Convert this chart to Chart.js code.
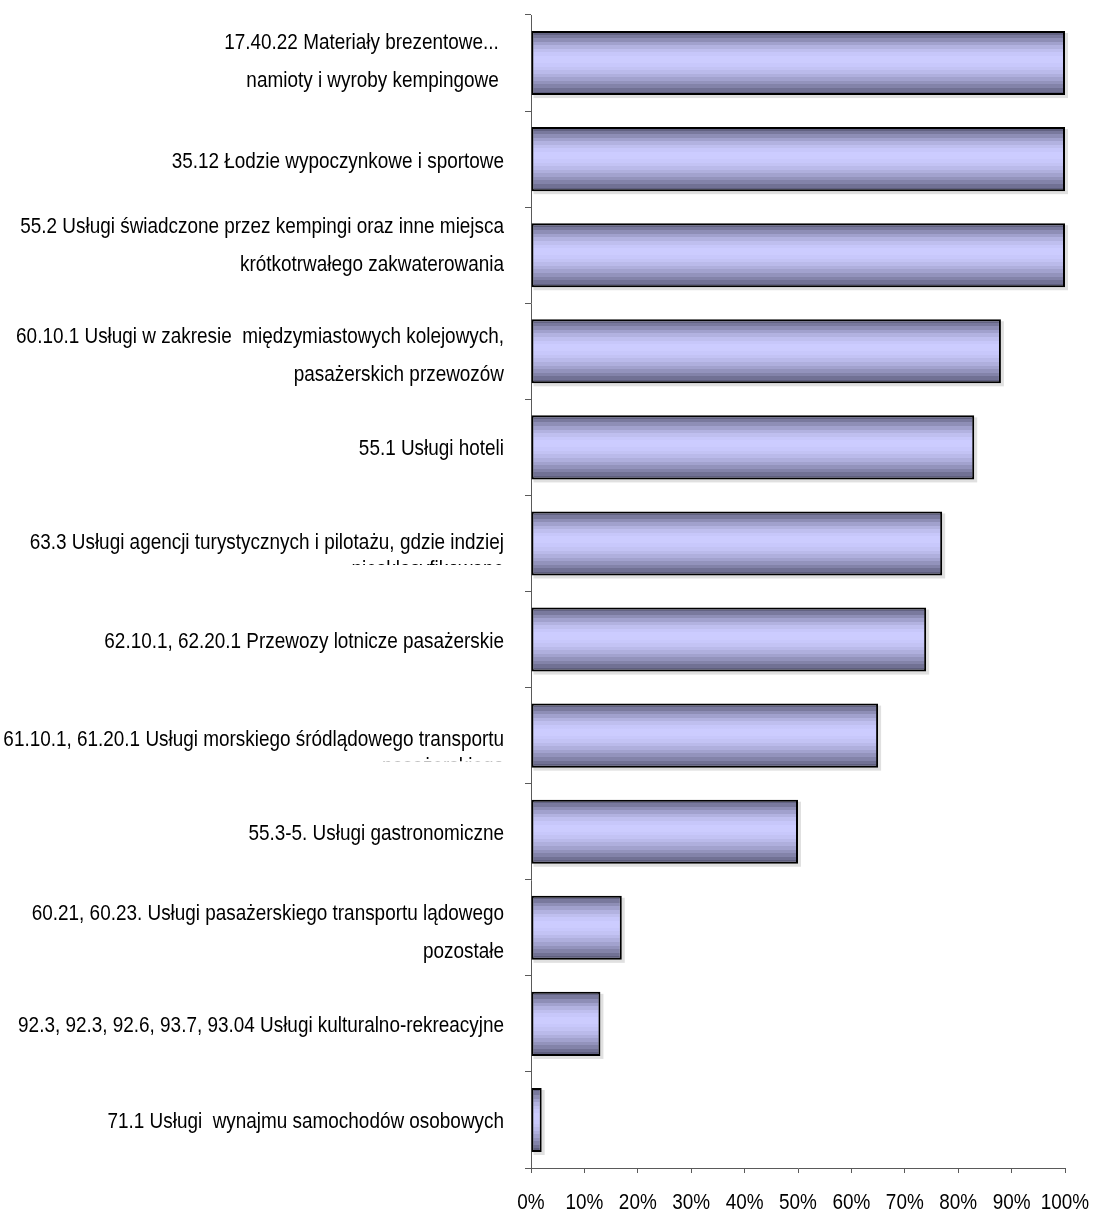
<!DOCTYPE html>
<html>
<head>
<meta charset="utf-8">
<script src="https://cdn.jsdelivr.net/npm/chart.js@4/dist/chart.umd.min.js"></script>
<style>
  html, body { margin: 0; padding: 0; background: #ffffff; }
  #wrap { width: 1095px; height: 1211px; position: relative; }
</style>
</head>
<body>
<div id="wrap"><canvas id="c" width="1095" height="1211"></canvas></div>
<script>
// ---- data ----
const categories = [
  ["17.40.22 Materiały brezentowe... ", "namioty i wyroby kempingowe "],
  ["35.12 Łodzie wypoczynkowe i sportowe"],
  ["55.2 Usługi świadczone przez kempingi oraz inne miejsca", "krótkotrwałego zakwaterowania"],
  ["60.10.1 Usługi w zakresie  międzymiastowych kolejowych,", "pasażerskich przewozów"],
  ["55.1 Usługi hoteli"],
  ["63.3 Usługi agencji turystycznych i pilotażu, gdzie indziej"],
  ["62.10.1, 62.20.1 Przewozy lotnicze pasażerskie"],
  ["61.10.1, 61.20.1 Usługi morskiego śródlądowego transportu"],
  ["55.3-5. Usługi gastronomiczne"],
  ["60.21, 60.23. Usługi pasażerskiego transportu lądowego", "pozostałe"],
  ["92.3, 92.3, 92.6, 93.7, 93.04 Usługi kulturalno-rekreacyjne"],
  ["71.1 Usługi  wynajmu samochodów osobowych"]
];
// second lines that overflow the label cell and are cut off
const overflowLines = [null, null, null, null, null, "niesklasyfikowane", null, "pasażerskiego", null, null, null, null];
const values = [100, 100, 100, 88, 83, 77, 74, 65, 50, 17, 13, 2];
const xTicks = [0, 10, 20, 30, 40, 50, 60, 70, 80, 90, 100];
const xTickLabels = ["0%", "10%", "20%", "30%", "40%", "50%", "60%", "70%", "80%", "90%", "100%"];

// ---- styling ----
const FONT = "'Liberation Sans', Arial, sans-serif";
const FONT_PX = 22;
const NARROW = 0.86;          // emulate Arial Narrow
const LINE_GAP = 38;
// baseline of first label line relative to category centre (style only)
const firstBaseline = [-14, 9, -22, -8, 8, 6, 8, 10, 8, -8, 8, 8];
const AXIS = '#5a5a5a';
const DARK = [86, 86, 116];
const LIGHT = [204, 204, 255];
const BAR_PCT = 0.667;

function bandColor(t) {
  let b = t < 0.44 ? t / 0.44 : (1 - t) / 0.56;
  b = Math.sin(b * Math.PI / 2);
  const c = DARK.map((d, i) => Math.round(d + (LIGHT[i] - d) * b));
  return 'rgb(' + c.join(',') + ')';
}

function barFill(ctx) {
  const chart = ctx.chart;
  const ys = chart.scales.y;
  if (!chart.chartArea || !ys || ctx.dataIndex === undefined) return 'rgb(170,170,220)';
  const center = ys.getPixelForValue(ctx.dataIndex);
  const half = (ys.height / categories.length) * BAR_PCT / 2;
  const top = center - half, bottom = center + half;
  if (!isFinite(top) || bottom <= top) return 'rgb(170,170,220)';
  const g = chart.ctx.createLinearGradient(0, top, 0, bottom);
  const bands = 18;
  for (let i = 0; i < bands; i++) {
    const col = bandColor((i + 0.5) / bands);
    g.addColorStop(i / bands, col);
    g.addColorStop((i + 1) / bands - 0.0001, col);
  }
  return g;
}

function narrowText(c, text, x, y, align) {
  c.save();
  c.translate(x, y);
  c.scale(NARROW, 1);
  c.textAlign = align;
  c.fillText(text, 0, 0);
  c.restore();
}

const labelPlugin = {
  id: 'narrowLabels',
  afterDraw(chart) {
    const ys = chart.scales.y, xs = chart.scales.x;
    const c = chart.ctx;
    c.save();
    c.font = FONT_PX + 'px ' + FONT;
    c.fillStyle = '#000000';
    c.textBaseline = 'alphabetic';
    const rightX = ys.right - 27;
    categories.forEach((lines, i) => {
      const cy = ys.getPixelForValue(i);
      const b0 = cy + firstBaseline[i];
      lines.forEach((line, k) => narrowText(c, line, rightX, b0 + k * LINE_GAP, 'right'));
      const extra = overflowLines[i];
      if (extra) {
        const b1 = b0 + 27;
        c.save();
        c.beginPath();
        c.rect(0, b1 - 17, ys.right - 10, 5.5);
        c.clip();
        narrowText(c, extra, rightX, b1, 'right');
        c.restore();
      }
    });
    const by = xs.top + 41;
    xTicks.forEach((v, i) => narrowText(c, xTickLabels[i], xs.getPixelForValue(v), by, 'center'));
    c.restore();
  }
};

const shadowPlugin = {
  id: 'barShadow',
  beforeDatasetsDraw(chart) {
    const c = chart.ctx;
    const meta = chart.getDatasetMeta(0);
    c.save();
    c.fillStyle = 'rgba(0,0,0,0.12)';
    meta.data.forEach(el => {
      const top = el.y - el.height / 2, bottom = el.y + el.height / 2;
      c.fillRect(el.base + 2, top + 2, el.x - el.base + 1, bottom - top + 1);
    });
    c.restore();
  }
};

new Chart(document.getElementById('c'), {
  type: 'bar',
  data: {
    labels: categories,
    datasets: [{
      data: values,
      backgroundColor: barFill,
      borderColor: '#000000',
      borderWidth: 2,
      borderSkipped: false,
      barPercentage: BAR_PCT,
      categoryPercentage: 1.0
    }]
  },
  options: {
    indexAxis: 'y',
    responsive: false,
    animation: false,
    devicePixelRatio: 1,
    layout: { padding: { top: 15, right: 30, left: 0, bottom: 0 } },
    plugins: { legend: { display: false }, tooltip: { enabled: false } },
    scales: {
      y: {
        type: 'category',
        offset: true,
        grid: { display: true, drawOnChartArea: false, drawTicks: true, tickLength: 6, color: AXIS, offset: true },
        border: { display: true, color: AXIS, width: 1 },
        ticks: { display: false, autoSkip: false },
        afterFit(scale) { scale.width = 531; }
      },
      x: {
        type: 'linear',
        min: 0,
        max: 100,
        afterBuildTicks(scale) { scale.ticks = xTicks.map(v => ({ value: v })); },
        grid: { display: true, drawOnChartArea: false, drawTicks: true, tickLength: 5, color: AXIS },
        border: { display: true, color: AXIS, width: 1 },
        ticks: { display: false, autoSkip: false },
        afterFit(scale) { scale.height = 43; }
      }
    }
  },
  plugins: [shadowPlugin, labelPlugin]
});
</script>
</body>
</html>
